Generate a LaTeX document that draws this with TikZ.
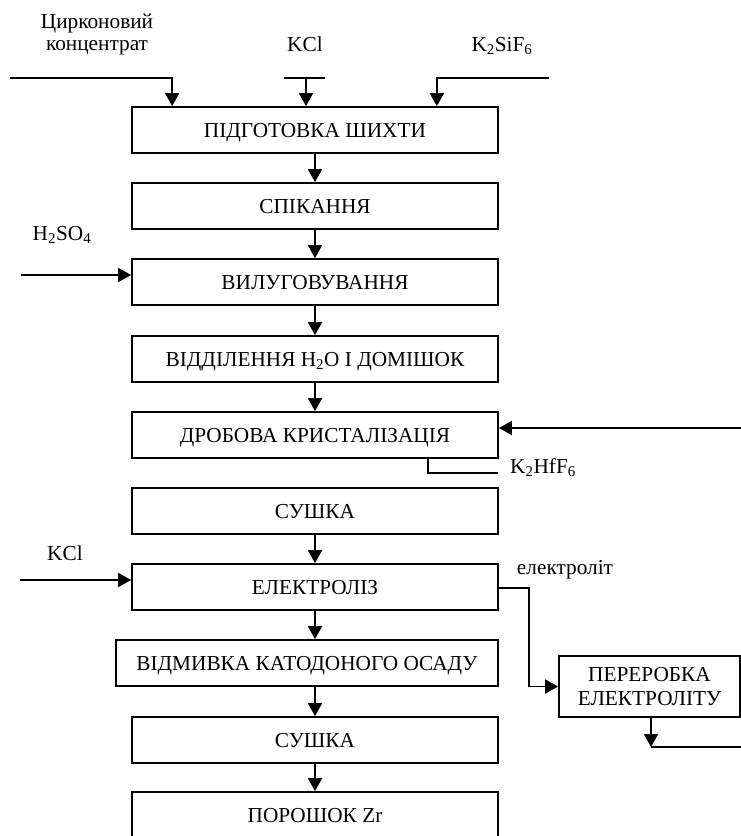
\documentclass[tikz,border=0pt]{standalone}
\usepackage{fontspec}
\setmainfont{Liberation Serif}
\usetikzlibrary{arrows.meta}
\begin{document}
\begin{tikzpicture}[x=1pt,y=1pt,
  every node/.style={font=\fontsize{21.3}{24}\selectfont, inner sep=0pt},
  boxbase/.style={draw, line width=1.7pt, minimum width=366pt, minimum height=46pt, align=center},
  box/.style={boxbase, text height=14pt, text depth=0pt},
  line/.style={line width=1.7pt},
  arr/.style={line width=1.7pt, -{Triangle[length=13pt,width=14pt]}},
  lbl/.style={anchor=base}]
\useasboundingbox (0,0) rectangle (741,-836);
\clip (0,0) rectangle (741,-836);
% boxes
\node[box] (b1) at (315,-130) {ПІДГОТОВКА ШИХТИ};
\node[box] (b2) at (315,-206) {СПІКАННЯ};
\node[box] (b3) at (315,-282) {ВИЛУГОВУВАННЯ};
\node[box] (b4) at (315,-359) {ВІДДІЛЕННЯ H\textsubscript{2}O І ДОМІШОК};
\node[box] (b5) at (315,-435) {ДРОБОВА КРИСТАЛІЗАЦІЯ};
\node[box] (b6) at (315,-511) {СУШКА};
\node[box] (b7) at (315,-587) {ЕЛЕКТРОЛІЗ};
\node[box, minimum width=382pt] (b8) at (307,-663) {ВІДМИВКА КАТОДОНОГО ОСАДУ};
\node[box] (b9) at (315,-740) {СУШКА};
\node[boxbase, minimum height=50pt] (b10) at (315,-817) {};
\node[lbl] (t10) at (315,-822) {ПОРОШОК Zr};
\node[boxbase, minimum width=181pt, minimum height=61pt] (pb) at (649.5,-686.5) {ПЕРЕРОБКА\\ЕЛЕКТРОЛІТУ};
% labels
\node[lbl] (l1a) at (97,-28) {Цирконовий};
\node[lbl] (l1b) at (97,-50) {концентрат};
\node[lbl] (l2) at (305,-51) {KCl};
\node[lbl] (l3) at (502,-51) {K\textsubscript{2}SiF\textsubscript{6}};
\node[lbl] (l4) at (62,-240) {H\textsubscript{2}SO\textsubscript{4}};
\node[lbl] (l5) at (543,-473) {K\textsubscript{2}HfF\textsubscript{6}};
\node[lbl] (l6) at (65,-560) {KCl};
\node[lbl] (l7) at (565,-574) {електроліт};
% coordinates
\coordinate (i1) at (10,-78);
\coordinate (i2a) at (284,-78);
\coordinate (i2b) at (325,-78);
\coordinate (i2) at (306,-78);
\coordinate (i3) at (549,-78);
\coordinate (i4) at (21,-275);
\coordinate (i5) at (741,-428);
\coordinate (o5) at (498,-473);
\coordinate (i7) at (20,-580);
\coordinate (e7) at (529,-588);
\coordinate (o9) at (741,-747);
\coordinate (p9) at (651,-747);
% input arrows
\draw[arr] (i1) -| ([xshift=41pt]b1.north west);
\draw[line] (i2a) -- (i2b);
\draw[arr] (i2) -- (i2 |- b1.north);
\draw[arr] (i3) -| ([xshift=-62pt]b1.north east);
\draw[arr] (i4) -- (i4 -| b3.west);
\draw[arr] (i5) -- (i5 -| b5.east);
\draw[line] ([xshift=-71pt]b5.south east) |- (o5);
\draw[arr] (i7) -- (i7 -| b7.west);
% chain
\draw[arr] (b1) -- (b2);
\draw[arr] (b2) -- (b3);
\draw[arr] (b3) -- (b4);
\draw[arr] (b4) -- (b5);
\draw[arr] (b6) -- (b7);
\draw[arr] (b7.south) -- (b7.south |- b8.north);
\draw[arr] (b9.south |- b8.south) -- (b9.north);
\draw[arr] (b9) -- (b10);
% electrolyte
\draw[arr] (e7 -| b7.east) -- (e7) |- (pb.west);
\draw[arr] (pb.south -| p9) -- (p9);
\draw[line] (p9) -- (o9);
\end{tikzpicture}
\end{document}
